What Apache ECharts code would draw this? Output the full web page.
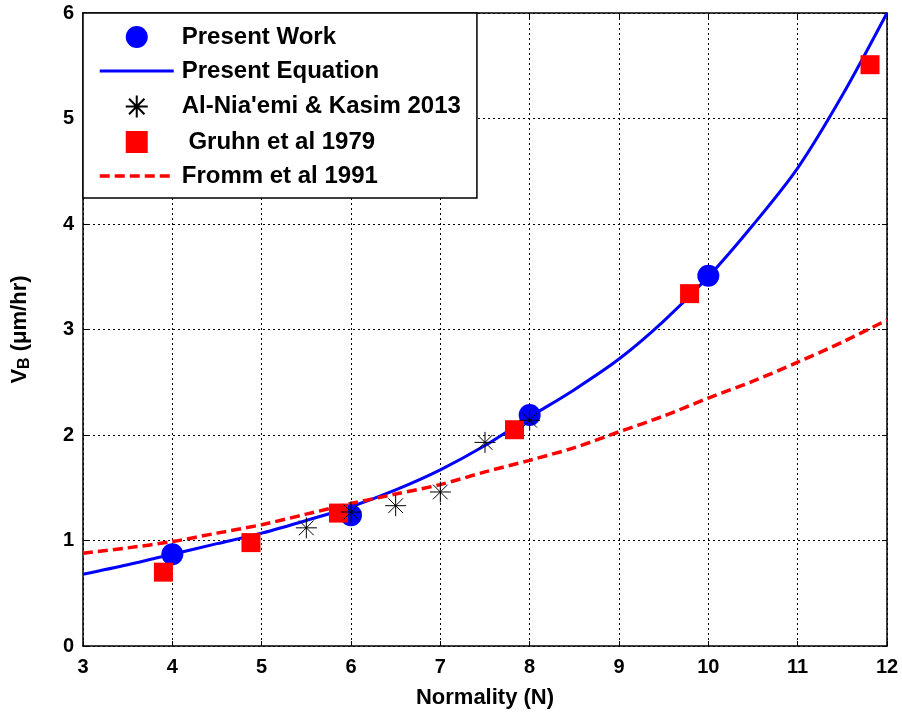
<!DOCTYPE html>
<html>
<head>
<meta charset="utf-8">
<script src="https://cdn.jsdelivr.net/npm/echarts@6/dist/echarts.min.js"></script>
<style>
html,body{margin:0;padding:0;background:#fff;}
#chart{width:902px;height:717px;}
</style>
</head>
<body>
<div id="chart"></div>
<script>
// ---- data ----
var presentWorkX = [4, 6, 8, 10];
var presentWorkY = [0.87, 1.24, 2.19, 3.51];

var equationX = [3, 3.5, 4, 4.5, 5, 5.5, 6, 6.5, 7, 7.5, 8, 8.5, 9, 9.5, 10, 10.5, 11, 11.5, 12];
var equationY = [0.68, 0.77, 0.87, 0.97, 1.07, 1.19, 1.32, 1.48, 1.67, 1.90, 2.17, 2.43, 2.72, 3.08, 3.50, 3.99, 4.53, 5.22, 6.00];

var alNiaemiX = [5.5, 6.0, 6.5, 7.0, 7.5, 8.0];
var alNiaemiY = [1.12, 1.27, 1.33, 1.46, 1.93, 2.14];

var gruhnX = [3.9, 4.88, 5.86, 7.83, 9.79, 11.81];
var gruhnY = [0.70, 0.98, 1.26, 2.05, 3.34, 5.51];

var frommX = [3, 3.5, 4, 4.5, 5, 5.5, 6, 6.5, 7, 7.5, 8, 8.5, 9, 9.5, 10, 10.5, 11, 11.5, 12];
var frommY = [0.88, 0.93, 0.99, 1.07, 1.15, 1.25, 1.35, 1.44, 1.53, 1.65, 1.76, 1.88, 2.03, 2.18, 2.35, 2.51, 2.69, 2.88, 3.09];

var xTicks = [3, 4, 5, 6, 7, 8, 9, 10, 11, 12];
var yTicks = [0, 1, 2, 3, 4, 5, 6];

var legendNames = ['Present Work', 'Present Equation', "Al-Nia'emi & Kasim 2013", ' Gruhn et al 1979', 'Fromm et al 1991'];

function pairs(xs, ys) { return xs.map(function (x, i) { return [x, ys[i]]; }); }

var FONT = '"Liberation Sans", Arial, Helvetica, sans-serif';
var STAR = 'path://M0,10L20,10M10,0L10,20M3,3L17,17M17,3L3,17';
var SQUARE = 'path://M0,0L10,0L10,10L0,10Z';

var chart = echarts.init(document.getElementById('chart'), null, {renderer: 'canvas'});

var gridLine = {show: true, lineStyle: {color: '#000', type: [2, 3], width: 1}};

var option = {
  backgroundColor: '#fff',
  animation: false,
  textStyle: {fontFamily: FONT},
  grid: {left: 83, right: 15, top: 13, bottom: 71, containLabel: false},
  xAxis: [{
    type: 'value', min: 3, max: 12, interval: 1, position: 'bottom',
    name: 'Normality (N)', nameLocation: 'middle', nameGap: 41,
    nameTextStyle: {fontFamily: FONT, fontWeight: 'bold', fontSize: 22, color: '#000'},
    axisLine: {show: true, onZero: false, lineStyle: {color: '#000', width: 1.5}},
    axisTick: {show: true, inside: true, length: 5, lineStyle: {color: '#000'}},
    axisLabel: {fontFamily: FONT, fontWeight: 'bold', fontSize: 20, color: '#000', margin: 11,
      formatter: function (v) { return xTicks.indexOf(v) >= 0 ? String(v) : ''; }},
    splitLine: gridLine
  }, {
    type: 'value', min: 3, max: 12, interval: 1, position: 'top',
    axisLine: {show: true, onZero: false, lineStyle: {color: '#000', width: 1.5}},
    axisTick: {show: true, inside: true, length: 5, lineStyle: {color: '#000'}},
    axisLabel: {show: false}, splitLine: {show: false}
  }],
  yAxis: [{
    type: 'value', min: 0, max: 6, interval: 1, position: 'left',
    name: '{v|V}{b|B}{v| (μm/hr)}', nameLocation: 'middle', nameGap: 50, nameRotate: 90,
    nameTextStyle: {
      rich: {
        v: {fontFamily: FONT, fontWeight: 'bold', fontSize: 22, color: '#000'},
        b: {fontFamily: FONT, fontWeight: 'bold', fontSize: 16, color: '#000', verticalAlign: 'bottom', padding: [10, 0, 0, 0]}
      }
    },
    axisLine: {show: true, onZero: false, lineStyle: {color: '#000', width: 1.5}},
    axisTick: {show: true, inside: true, length: 5, lineStyle: {color: '#000'}},
    axisLabel: {fontFamily: FONT, fontWeight: 'bold', fontSize: 20, color: '#000', margin: 9,
      formatter: function (v) { return yTicks.indexOf(v) >= 0 ? String(v) : ''; }},
    splitLine: gridLine
  }, {
    type: 'value', min: 0, max: 6, interval: 1, position: 'right',
    axisLine: {show: true, onZero: false, lineStyle: {color: '#000', width: 1.5}},
    axisTick: {show: true, inside: true, length: 5, lineStyle: {color: '#000'}},
    axisLabel: {show: false}, splitLine: {show: false}
  }],
  legend: {
    orient: 'vertical', left: 83, top: 13,
    backgroundColor: '#fff', borderColor: '#000', borderWidth: 1.5, borderRadius: 0,
    padding: [12, 16, 10, 15],
    itemWidth: 74, itemHeight: 22, itemGap: 10,
    symbolKeepAspect: true,
    textStyle: {fontFamily: FONT, fontWeight: 'bold', fontSize: 24, color: '#000', padding: [0, 0, 0, 3]},
    data: [
      {name: legendNames[0]},
      {name: legendNames[1], itemStyle: {opacity: 0}, lineStyle: {width: 3}},
      {name: legendNames[2]},
      {name: legendNames[3], icon: SQUARE, itemStyle: {opacity: 1}},
      {name: legendNames[4], itemStyle: {opacity: 0}, lineStyle: {width: 3.5}}
    ],
    z: 10
  },
  series: [{
    name: legendNames[1], type: 'line', data: pairs(equationX, equationY),
    smooth: 0.3, showSymbol: false, symbol: 'none',
    lineStyle: {color: '#0000ff', width: 3}, itemStyle: {color: '#0000ff'}, z: 2
  }, {
    name: legendNames[4], type: 'line', data: pairs(frommX, frommY),
    smooth: 0.3, showSymbol: false, symbol: 'none',
    lineStyle: {color: '#ff0000', width: 3.5, type: [10, 5]}, itemStyle: {color: '#ff0000'}, z: 3
  }, {
    name: legendNames[0], type: 'scatter', data: pairs(presentWorkX, presentWorkY),
    symbol: 'circle', symbolSize: 22, itemStyle: {color: '#0000ff', opacity: 1}, z: 4
  }, {
    name: legendNames[3], type: 'scatter', data: pairs(gruhnX, gruhnY),
    symbol: 'rect', symbolSize: 19, itemStyle: {color: '#ff0000', opacity: 1}, z: 5
  }, {
    name: legendNames[2], type: 'scatter', data: pairs(alNiaemiX, alNiaemiY),
    symbol: STAR, symbolSize: 21, symbolKeepAspect: true,
    itemStyle: {color: 'none', borderColor: '#000', borderWidth: 1, opacity: 1}, z: 6
  }]
};
chart.setOption(option);
</script>
</body>
</html>
